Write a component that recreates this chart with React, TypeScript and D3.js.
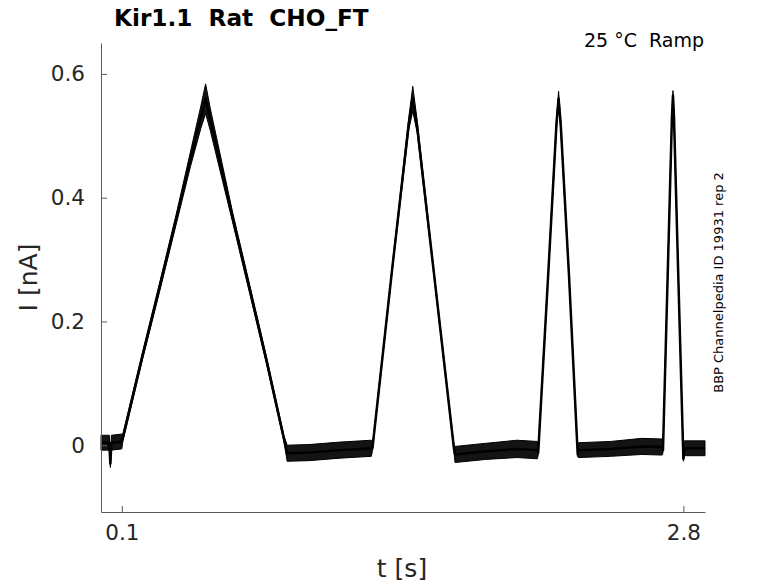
import * as d3 from 'd3';
import {useEffect, useRef} from 'react';

const times = [
    0, 0.04, 0.045, 0.05, 0.1, 0.105, 0.2, 0.28, 0.36, 0.43, 0.48, 0.503, 0.525, 0.633, 0.715, 0.795, 0.88,
    0.895, 1.0, 1.15, 1.3, 1.305, 1.4, 1.48, 1.499, 1.52, 1.6, 1.697, 1.702, 1.85, 2.0, 2.098, 2.102, 2.15, 2.19,
    2.2, 2.21, 2.25, 2.292, 2.296, 2.45, 2.6, 2.698, 2.702, 2.725, 2.745, 2.75, 2.755, 2.775, 2.8, 2.805, 2.904,
];
const meanCurrent = [
    0.004, 0.004, -0.03, 0.004, 0.006, 0.012, 0.145, 0.253, 0.363, 0.462, 0.53, 0.56, 0.527, 0.368, 0.252,
    0.138, 0.01, -0.013, -0.012, -0.008, -0.005, -0.005, 0.285, 0.52, 0.56, 0.515, 0.28, -0.005, -0.015, -0.01,
    -0.006, -0.008, -0.012, 0.275, 0.52, 0.56, 0.52, 0.275, -0.015, -0.008, -0.006, -0.002, -0.003, -0.008, 0.28,
    0.53, 0.565, 0.53, 0.28, -0.022, -0.005, -0.005,
];
const bandHalf = [
    0.012, 0.012, 0.006, 0.012, 0.012, 0.006, 0.006, 0.007, 0.008, 0.012, 0.018, 0.024, 0.018, 0.008, 0.007,
    0.006, 0.005, 0.013, 0.013, 0.013, 0.013, 0.004, 0.004, 0.01, 0.02, 0.01, 0.004, 0.004, 0.013, 0.013, 0.014,
    0.014, 0.004, 0.003, 0.008, 0.012, 0.008, 0.003, 0.004, 0.012, 0.012, 0.013, 0.013, 0.004, 0.003, 0.006,
    0.008, 0.006, 0.003, 0.004, 0.012, 0.012,
];

const xTicks = [0.1, 2.8];
const yTicks = [0, 0.2, 0.4, 0.6];

const title = 'Kir1.1  Rat  CHO_FT';
const condition = '25 °C  Ramp';
const sideNote = 'BBP Channelpedia ID 19931 rep 2';

export default function App({width = 778, height = 583}) {
    const ref = useRef(null);

    const margins = {
        top: 43,
        right: 73,
        bottom: 71,
        left: 101,
    };

    useEffect(() => {
        const svg = d3.select(ref.current);
        svg.selectAll('*').remove();

        const font = "'DejaVu Sans', sans-serif";

        const xScale = d3
            .scaleLinear<number>()
            .domain([0, 2.904])
            .range([margins.left, width - margins.right]);

        const yScale = d3
            .scaleLinear<number>()
            .domain([-0.108, 0.65])
            .range([height - margins.bottom, margins.top]);

        const points = times.map((t, i) => ({t, v: meanCurrent[i], h: bandHalf[i]}));

        const band = d3
            .area<{t: number; v: number; h: number}>()
            .x((d) => xScale(d.t))
            .y0((d) => yScale(d.v - d.h))
            .y1((d) => yScale(d.v + d.h));

        const line = d3
            .line<{t: number; v: number; h: number}>()
            .x((d) => xScale(d.t))
            .y((d) => yScale(d.v));

        svg.append('path')
            .attr('d', band(points))
            .attr('fill', '#000')
            .attr('stroke', '#000')
            .attr('stroke-width', 1)
            .attr('fill-opacity', 0.92);

        svg.append('path')
            .attr('d', line(points))
            .attr('fill', 'none')
            .attr('stroke', '#000')
            .attr('stroke-width', 2.5)
            .attr('stroke-linejoin', 'round');

        const xAxis = d3
            .axisBottom(xScale)
            .tickValues(xTicks)
            .tickFormat((d) => `${d}`)
            .tickSizeInner(-6)
            .tickSizeOuter(0)
            .tickPadding(13);
        const yAxis = d3
            .axisLeft(yScale)
            .tickValues(yTicks)
            .tickFormat((d) => `${d}`)
            .tickSizeInner(-6)
            .tickSizeOuter(0)
            .tickPadding(16);

        const gx = svg
            .append('g')
            .attr('transform', `translate(0, ${height - margins.bottom})`)
            .call(xAxis);
        const gy = svg.append('g').attr('transform', `translate(${margins.left}, 0)`).call(yAxis);

        [gx, gy].forEach((g) => {
            g.select('.domain').attr('stroke', '#5a5a5a');
            g.selectAll('.tick line').attr('stroke', '#5a5a5a');
            g.selectAll('.tick text')
                .attr('fill', '#262626')
                .style('font-family', font)
                .style('font-size', '21.5px');
        });
        gx.selectAll('.tick text').attr('dy', '0.71em');

        svg.append('text')
            .attr('x', 114)
            .attr('y', 26)
            .style('white-space', 'pre')
            .style('font-family', font)
            .style('font-size', '23.2px')
            .style('font-weight', 'bold')
            .attr('fill', '#000')
            .text(title);

        svg.append('text')
            .attr('x', 704)
            .attr('y', 47)
            .attr('text-anchor', 'end')
            .style('white-space', 'pre')
            .style('font-family', font)
            .style('font-size', '19px')
            .attr('fill', '#000')
            .text(condition);

        svg.append('text')
            .attr('transform', `translate(723, 282.5) rotate(-90)`)
            .attr('text-anchor', 'middle')
            .style('font-family', font)
            .style('font-size', '13px')
            .attr('fill', '#000')
            .text(sideNote);

        svg.append('text')
            .attr('transform', `translate(37, 277.5) rotate(-90)`)
            .attr('text-anchor', 'middle')
            .style('font-family', font)
            .style('font-size', '25px')
            .attr('fill', '#262626')
            .text('I [nA]');

        svg.append('text')
            .attr('x', 402)
            .attr('y', 577)
            .attr('text-anchor', 'middle')
            .style('font-family', font)
            .style('font-size', '25px')
            .attr('fill', '#262626')
            .text('t [s]');
    }, []);

    return (
        <svg
            ref={ref}
            width={width}
            height={height}
            style={{position: 'absolute', left: 0, top: 0, background: '#fff'}}
        ></svg>
    );
}
